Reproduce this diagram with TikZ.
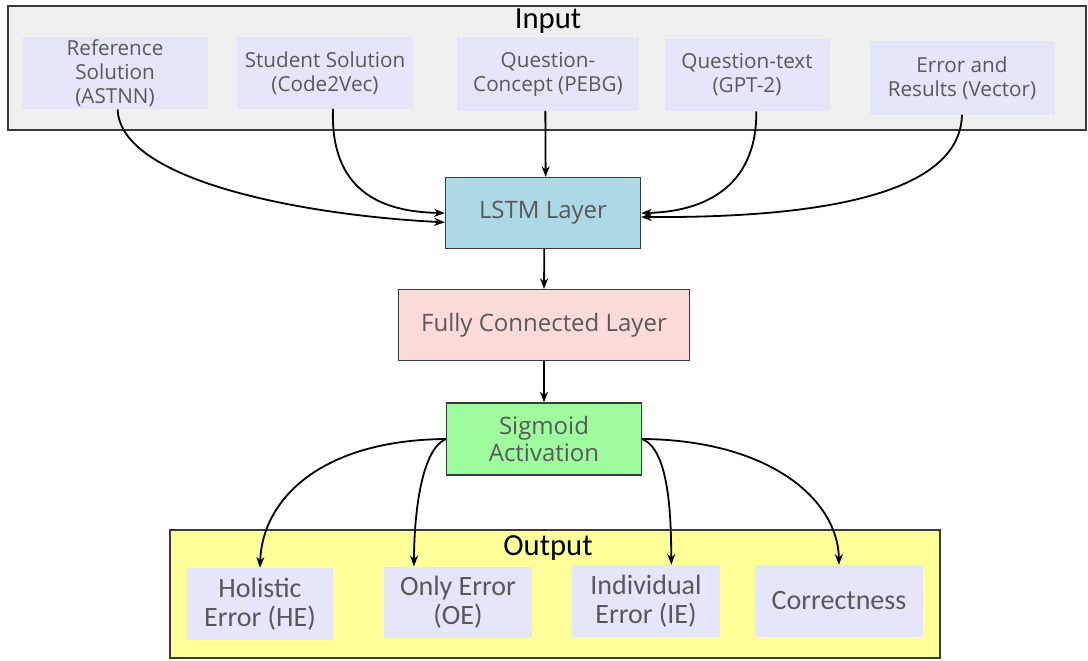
\documentclass[tikz,border=0pt]{standalone}
\usepackage{fontspec}
\setmainfont{Open Sans}
\newfontfamily\narrowfont{Carlito}
\usetikzlibrary{arrows.meta}
\definecolor{textGray}{HTML}{595959}
\definecolor{edgeGray}{HTML}{3A3A3A}
\definecolor{inputBack}{HTML}{F0F0F0}
\definecolor{lavenderFill}{HTML}{E6E6FA}
\definecolor{lstmBlue}{HTML}{ADD8E6}
\definecolor{fcPink}{HTML}{FADBD8}
\definecolor{sigGreen}{HTML}{9EFB9E}
\definecolor{outYellow}{HTML}{FFFF99}
\tikzset{
    group/.style={draw=edgeGray,line width=0.9pt,inner sep=0pt},
    feature/.style={fill=lavenderFill,inner sep=2pt,align=center,
        text=textGray,font=\fontsize{15.5}{18}\selectfont},
    result/.style={fill=lavenderFill,inner sep=2pt,align=center,
        text=textGray,font=\narrowfont\fontsize{21}{22}\selectfont},
    layer/.style={draw=edgeGray,line width=0.9pt,inner sep=2pt,align=center,
        text=textGray,font=\fontsize{18}{20}\selectfont},
    title/.style={font=\narrowfont\fontsize{23}{24}\selectfont,text=black},
    arrow/.style={-{Stealth[length=8pt,width=6pt]},line width=1.35pt,draw=black}
}
\begin{document}
\begin{tikzpicture}[x=0.75pt,y=-0.75pt]
    \useasboundingbox[fill=white] (0,0) rectangle (1088,660);
    % input group
    \node[group,fill=inputBack,minimum width=1078*0.75pt,minimum height=124*0.75pt]
        (inputgroup) at (547,68) {};
    \node[title] (inputtitle) at (548,21) {Input};
    \node[feature,minimum width=185*0.75pt,minimum height=71*0.75pt]
        (refsol) at (115,73) {Reference\\Solution\\(ASTNN)};
    \node[feature,minimum width=176*0.75pt,minimum height=71*0.75pt]
        (stusol) at (325,73) {Student Solution\\(Code2Vec)};
    \node[feature,minimum width=182*0.75pt,minimum height=73*0.75pt]
        (qconcept) at (548,74) {Question-\\Concept (PEBG)};
    \node[feature,minimum width=165*0.75pt,minimum height=72*0.75pt]
        (qtext) at (747,75) {Question-text\\(GPT-2)};
    \node[feature,minimum width=185*0.75pt,minimum height=73*0.75pt]
        (errres) at (962,78) {Error and\\Results (Vector)};
    % layers
    \node[layer,fill=lstmBlue,minimum width=195*0.75pt,minimum height=71*0.75pt]
        (lstm) at (543,213) {LSTM Layer};
    \node[layer,fill=fcPink,minimum width=291*0.75pt,minimum height=71*0.75pt]
        (fullconn) at (544,325) {Fully Connected Layer};
    \node[layer,fill=sigGreen,minimum width=195*0.75pt,minimum height=72*0.75pt]
        (sigmoid) at (544,439) {Sigmoid\\Activation};
    % output group
    \node[group,fill=outYellow,minimum width=770*0.75pt,minimum height=128*0.75pt]
        (outputgroup) at (555,594) {};
    \node[title] (outputtitle) at (548,548) {Output};
    \node[result,minimum width=146*0.75pt,minimum height=72*0.75pt]
        (holistic) at (260,604) {Holistic\\Error (HE)};
    \node[result,minimum width=148*0.75pt,minimum height=71*0.75pt]
        (onlyerr) at (458,602) {Only Error\\(OE)};
    \node[result,minimum width=148*0.75pt,minimum height=72*0.75pt]
        (indiverr) at (646,601) {Individual\\Error (IE)};
    \node[result,minimum width=168*0.75pt,minimum height=72*0.75pt]
        (correct) at (839,601) {Correctness};
    % inputs into lstm
    \draw[arrow] ([xshift=2pt]refsol.south) .. controls (120,180) and (300,215) .. ([yshift=-7pt]lstm.west);
    \draw[arrow] ([xshift=6pt]stusol.south) .. controls (330,190) and (380,212) .. (lstm.west);
    \draw[arrow] ([xshift=-2pt]qconcept.south) -- ([xshift=2pt]lstm.north);
    \draw[arrow] ([xshift=7pt]qtext.south) .. controls (757,190) and (700,212) .. (lstm.east);
    \draw[arrow] (errres.south) .. controls (960,200) and (800,218) .. ([yshift=-3pt]lstm.east);
    % layer stack
    \draw[arrow] ([xshift=1pt]lstm.south) -- (fullconn.north);
    \draw[arrow] (fullconn.south) -- (sigmoid.north);
    % sigmoid to outputs
    \draw[arrow] (sigmoid.west) .. controls (320,440) and (262,500) .. (holistic.north);
    \draw[arrow] (sigmoid.west) .. controls (420,450) and (414,520) .. ([xshift=-33pt]onlyerr.north);
    \draw[arrow] (sigmoid.east) .. controls (670,450) and (671,520) .. ([xshift=19pt]indiverr.north);
    \draw[arrow] (sigmoid.east) .. controls (770,440) and (838,500) .. (correct.north);
\end{tikzpicture}
\end{document}
